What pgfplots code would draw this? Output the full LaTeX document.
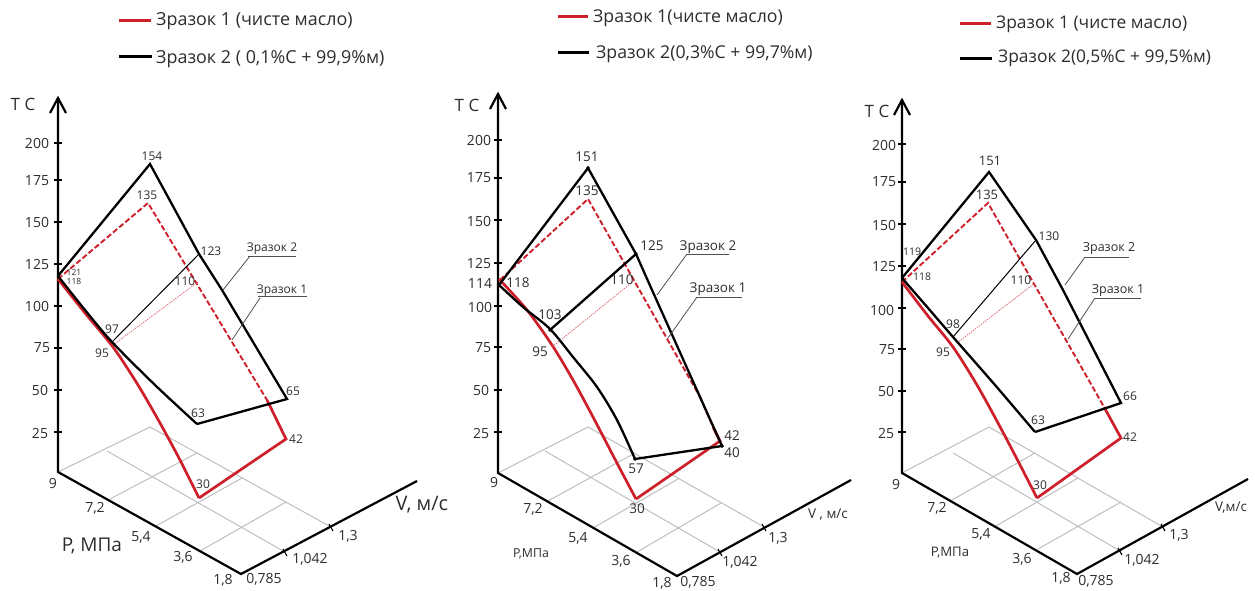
\documentclass[border=0pt]{standalone}
\usepackage{fontspec}
\setmainfont{Open Sans}
\usepackage{pgfplots}
\pgfplotsset{compat=1.18}
\definecolor{tx}{RGB}{45,45,45}
\definecolor{rd}{RGB}{205,32,42}
\definecolor{grd}{RGB}{190,190,190}
\definecolor{ldr}{RGB}{80,80,80}
\newcommand{\pl}[2]{\addplot[#1] coordinates {#2};}
\newcommand{\lab}[4][12]{\node[anchor=center,inner sep=0pt,text=tx,font=\fontsize{#1}{#1}\selectfont] at (axis cs:#2,#3) {#4};}
\newcommand{\leg}[4]{\node[anchor=west,inner sep=0pt,text=tx,font=\fontsize{#1}{#1}\selectfont] at (axis cs:#2,#3) {#4};}
\begin{document}
\begin{tikzpicture}
\useasboundingbox (0,0) rectangle (1255pt,591pt);
\begin{axis}[at={(0,0)},anchor=south west,scale only axis,width=1255pt,height=591pt,
  xmin=0,xmax=1255,ymin=0,ymax=591,y dir=reverse,hide axis,clip=false,
  ax/.style={black,line width=2.2pt,line join=miter,no marks},
  tk/.style={black,line width=1.1pt,no marks},
  gr/.style={grd,line width=1pt,no marks},
  bk/.style={black,line width=2.3pt,line join=miter,no marks},
  bkthin/.style={black,line width=1pt,no marks},
  rs/.style={rd,line width=2.7pt,line join=miter,no marks},
  rdash/.style={rd,line width=1.9pt,dash pattern=on 5.5pt off 2.5pt,no marks},
  rthin/.style={rd!70,line width=0.7pt,dash pattern=on 1.5pt off 1pt,no marks},
  lead/.style={ldr,line width=0.8pt,no marks},
  dot/.style={only marks,mark=*,mark size=1.6pt,black}
]
% ===================== PANEL 1 =====================
\pl{gr}{(58,472)(150,427)}
\pl{gr}{(110,499)(197,453)}
\pl{gr}{(156,526)(242,478)}
\pl{gr}{(200,551)(286,502)}
\pl{gr}{(150,427)(331,527)}
\pl{gr}{(107,451)(285,552)}
\pl{ax}{(58,98)(58,472)(241,574)(417,481)}
\pl{ax}{(50,113)(58,98)(66,113)}
\pl{tk}{(54,143)(62,143)}\pl{tk}{(54,180)(62,180)}\pl{tk}{(54,222)(62,222)}\pl{tk}{(54,264)(62,264)}
\pl{tk}{(54,306)(62,306)}\pl{tk}{(54,348)(62,348)}\pl{tk}{(54,390)(62,390)}\pl{tk}{(54,432)(62,432)}
\pl{tk}{(329,524)(333,531)}\pl{tk}{(283,549)(287,556)}
\pl{rdash}{(58,279)(148,203)(267,400)}
\pl{rs}{(267,400)(286,439)(199,498)}
\pl{rs,smooth}{(58,279)(85,313)(113,347)(138,385)(160,423)(180,460)(199,498)}
\pl{rthin}{(113,345)(198,282)}
\pl{bk}{(58,276)(150,164)(199,254)(222,290)(287,399)(197,424)}
\pl{bk,smooth}{(58,276)(85,310)(112,342)(155,385)(197,424)}
\pl{bkthin}{(112,342)(199,254)}
\pl{lead}{(250,256)(223,290)}\pl{lead}{(248,256)(296,256)}
\pl{lead}{(260,298)(232,340)}\pl{lead}{(258,296)(307,296)}
\pl{rs,line width=3pt}{(119,21)(151,21)}
\pl{bk,line width=3pt}{(119,57)(152,57)}
\leg{17.9}{156}{21}{Зразок 1 (чисте масло)}
\leg{17.9}{156}{59}{Зразок 2 ( 0,1\%C + 99,9\%м)}
\lab[17]{23}{104}{T C}
\lab[14]{37}{143}{200}\lab[14]{37}{181}{175}\lab[14]{37}{222}{150}\lab[14]{37}{264}{125}
\lab[14]{37}{306}{100}\lab[14]{42}{348}{75}\lab[14]{40}{390}{50}\lab[14]{40}{433}{25}
\lab[14]{53}{483}{9}\lab[14]{95}{508}{7,2}\lab[14]{141}{537}{5,4}\lab[14]{183}{557}{3,6}\lab[14]{223}{580}{1,8}
\lab[14]{264}{579}{0,785}\lab[14]{310}{559}{1,042}\lab[14]{348}{536}{1,3}
\lab[20]{422}{505}{V, м/с}\lab[19]{92}{546}{P, МПа}
\lab{152}{156}{154}\lab{147}{195}{135}\lab{211}{251}{123}\lab{185}{281}{110}
\lab[8.5]{74}{272}{121}\lab[8.5]{74}{281}{118}
\lab{112}{329}{97}\lab{102}{353}{95}\lab{198}{413}{63}\lab{293}{391}{65}\lab{296}{439}{42}\lab{203}{484}{30}
\lab{272}{249}{Зразок 2}\lab{282}{291}{Зразок 1}
% ===================== PANEL 2 =====================
\pl{gr}{(498,473)(588,427)}
\pl{gr}{(548,501)(635,453)}
\pl{gr}{(593,528)(678,479)}
\pl{gr}{(637,552)(721,503)}
\pl{gr}{(588,427)(764,527)}
\pl{gr}{(545,451)(720,552)}
\pl{ax}{(498,94)(498,473)(677,576)(851,480)}
\pl{ax}{(490,109)(498,94)(506,109)}
\pl{tk}{(494,140)(502,140)}\pl{tk}{(494,178)(502,178)}\pl{tk}{(494,220)(502,220)}\pl{tk}{(494,263)(502,263)}
\pl{tk}{(494,306)(502,306)}\pl{tk}{(494,347)(502,347)}\pl{tk}{(494,390)(502,390)}\pl{tk}{(494,432)(502,432)}
\pl{tk}{(762,524)(766,531)}\pl{tk}{(718,549)(722,556)}
\pl{rdash}{(500,280)(588,199)(700,397)}
\pl{rs}{(713,427)(720,441)(636,499)}
\pl{rdash}{(700,397)(713,427)}
\pl{rs,smooth}{(499,279)(527,310)(552,345)(573,380)(593,417)(618,465)(636,499)}
\pl{rthin}{(552,347)(635,280)}
\pl{bk}{(499,285)(588,168)(636,254)(652,290)(722,446)(635,459)}
\pl{bk,smooth}{(499,285)(523,307)(550,329)(573,357)(597,387)(617,420)(635,459)}
\pl{bk}{(550,330)(636,254)}
\addplot[dot] coordinates {(635,459)(722,446)(550,330)(636,254)(588,168)};
\pl{lead}{(687,254)(657,295)}\pl{lead}{(687,254)(729,254)}
\pl{lead}{(697,297)(668,338)}\pl{lead}{(697,297)(742,297)}
\pl{rs,line width=3pt}{(558,17)(588,17)}
\pl{bk,line width=3pt}{(558,53)(589,53)}
\leg{17.7}{593}{18}{Зразок 1(чисте масло)}
\leg{17.7}{596}{54}{Зразок 2(0,3\%C + 99,7\%м)}
\lab[17]{467}{105}{T C}
\lab[14]{479}{140}{200}\lab[14]{479}{178}{175}\lab[14]{479}{221}{150}\lab[14]{479}{263}{125}\lab[14]{480}{283}{114}
\lab[14]{480}{307}{100}\lab[14]{483}{348}{75}\lab[14]{481}{390}{50}\lab[14]{481}{433}{25}
\lab[14]{494}{482}{9}\lab[14]{533}{509}{7,2}\lab[14]{578}{538}{5,4}\lab[14]{621}{561}{3,6}\lab[14]{662}{583}{1,8}
\lab[14]{698}{582}{0,785}\lab[14]{740}{562}{1,042}\lab[14]{778}{538}{1,3}
\lab[13.5]{828}{515}{V , м/с}\lab[12.3]{531}{554}{P,МПа}
\lab[13.5]{587}{157}{151}\lab[13.5]{587}{191}{135}\lab[13.5]{652}{246}{125}\lab[13.5]{622}{280}{110}
\lab[13.5]{518}{283}{118}
\lab[13.5]{550}{315}{103}\lab[13.5]{540}{352}{95}\lab[13.5]{636}{469}{57}\lab[13.5]{732}{436}{42}\lab[13.5]{732}{453}{40}\lab[13.5]{637}{509}{30}
\lab[13.5]{708}{247}{Зразок 2}\lab[13.5]{718}{289}{Зразок 1}
% ===================== PANEL 3 =====================
\pl{gr}{(902,473)(989,427)}
\pl{gr}{(952,500)(1035,453)}
\pl{gr}{(996,526)(1078,478)}
\pl{gr}{(1038,549)(1121,502)}
\pl{gr}{(989,427)(1163,527)}
\pl{gr}{(953,453)(1120,551)}
\pl{ax}{(902,100)(902,473)(1077,574)(1248,479)}
\pl{ax}{(894,115)(902,100)(910,115)}
\pl{tk}{(898,144)(906,144)}\pl{tk}{(898,182)(906,182)}\pl{tk}{(898,224)(906,224)}\pl{tk}{(898,266)(906,266)}
\pl{tk}{(898,308)(906,308)}\pl{tk}{(898,349)(906,349)}\pl{tk}{(898,391)(906,391)}\pl{tk}{(898,432)(906,432)}
\pl{tk}{(1161,524)(1165,531)}\pl{tk}{(1118,548)(1122,555)}
\pl{rdash}{(902,282)(988,203)(1104,407)}
\pl{rs}{(1104,407)(1121,438)(1037,498)}
\pl{rs,smooth}{(902,282)(928,316)(953,347)(977,385)(998,423)(1018,461)(1037,498)}
\pl{rthin}{(957,343)(1035,283)}
\pl{bk}{(902,278)(989,172)(1036,240)(1063,290)(1121,403)(1035,432)}
\pl{bk,smooth}{(902,278)(928,308)(953,337)(995,385)(1035,432)}
\pl{bkthin}{(953,337)(1036,240)}
\pl{lead}{(1085,257)(1065,285)}\pl{lead}{(1085,257)(1129,257)}
\pl{lead}{(1095,298)(1068,339)}\pl{lead}{(1095,298)(1141,298)}
\pl{rs,line width=3pt}{(960,24)(991,24)}
\pl{bk,line width=3pt}{(960,59)(992,59)}
\leg{17.4}{996}{24}{Зразок 1 (чисте масло)}
\leg{17.4}{998}{58}{Зразок 2(0,5\%C + 99,5\%м)}
\lab[17]{877}{111}{T C}
\lab[14]{884}{145}{200}\lab[14]{884}{182}{175}\lab[14]{884}{225}{150}\lab[14]{884}{266}{125}
\lab[14]{882}{310}{100}\lab[14]{887}{350}{75}\lab[14]{886}{391}{50}\lab[14]{886}{433}{25}
\lab[14]{896}{484}{9}\lab[14]{937}{508}{7,2}\lab[14]{981}{534}{5,4}\lab[14]{1022}{559}{3,6}\lab[14]{1061}{578}{1,8}
\lab[14]{1096}{581}{0,785}\lab[14]{1142}{560}{1,042}\lab[14]{1179}{535}{1,3}
\lab[13.5]{1231}{508}{V,м/с}\lab[13.2]{950}{553}{P,МПа}
\lab[13]{990}{161}{151}\lab[13]{987}{195}{135}\lab[12]{1049}{236}{130}\lab[12]{1021}{280}{110}
\lab[10.5]{912}{252}{119}\lab[10.5]{922}{277}{118}
\lab[12]{953}{324}{98}\lab[12]{943}{352}{95}\lab[12]{1038}{420}{63}\lab[12]{1130}{396}{66}\lab[12]{1130}{437}{42}\lab[12]{1040}{485}{30}
\lab[12.5]{1109}{248}{Зразок 2}\lab[12.5]{1118}{290}{Зразок 1}
\end{axis}
\end{tikzpicture}
\end{document}
